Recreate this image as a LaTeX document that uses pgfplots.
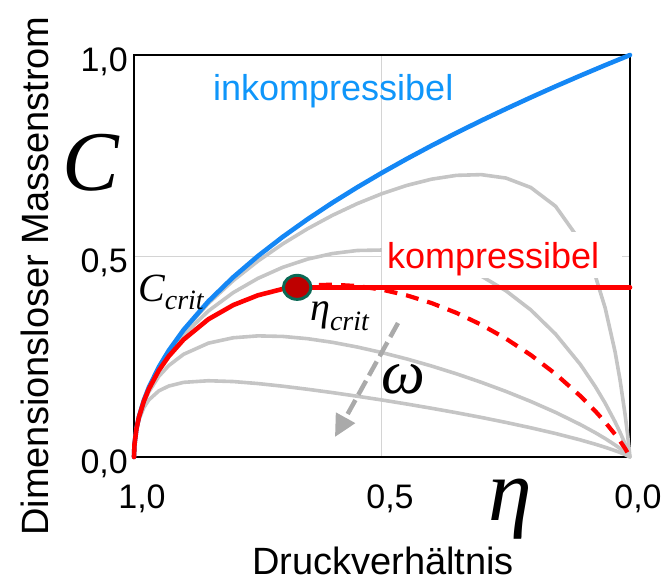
\documentclass[border=0pt]{standalone}
\usepackage{fontspec}
\setmainfont{Liberation Sans}
\newfontfamily\timesfont{Liberation Serif}
\usepackage{pgfplots}
\pgfplotsset{compat=1.18}
\usetikzlibrary{arrows.meta}

\definecolor{curvegray}{RGB}{197,197,197}
\definecolor{arrowgray}{RGB}{170,170,170}
\definecolor{gridgray}{RGB}{212,212,212}
\definecolor{incblue}{RGB}{20,135,245}
\definecolor{inctext}{RGB}{15,150,250}
\definecolor{critred}{RGB}{255,0,0}
\definecolor{dotfill}{RGB}{190,0,0}
\definecolor{dotrim}{RGB}{10,105,85}

\newcommand{\ticksize}{\fontsize{34}{40}\selectfont}

\begin{document}
\begin{tikzpicture}
\begin{axis}[
  scale only axis, width=496pt, height=402pt,
  xmin=0, xmax=1, ymin=0, ymax=1, x dir=reverse,
  clip=false,
  axis line style={line width=1.5pt, black},
  xtick={1,0.5,0}, xticklabels={{1,0},{0,5},{0,0}},
  ytick={0,0.5,1}, yticklabels={{0,0},{0,5},{1,0}},
  major tick length=0pt,
  grid=major, grid style={line width=1pt, gridgray},
  tick label style={font=\ticksize, inner sep=0pt},
  xticklabel style={anchor=north, xshift=8pt, yshift=-28pt},
  yticklabel style={anchor=east, xshift=-6pt, yshift=-7pt},
  every axis plot/.append style={line join=round, line cap=round},
]

% omega-method curves (omega = 0.1, 0.5, 3, 10)
\addplot[curvegray, line width=3.6pt] coordinates {
(1,0) (0.999,0.0316) (0.995,0.0707) (0.99,0.0999) (0.98,0.1412) (0.97,0.1728)
(0.95,0.2227) (0.93,0.2631) (0.9,0.3136) (0.85,0.3822) (0.8,0.4388) (0.75,0.4875)
(0.7,0.5302) (0.65,0.5678) (0.6,0.6011) (0.55,0.6302) (0.5,0.6551) (0.45,0.6756)
(0.4,0.6911) (0.35,0.7006) (0.3,0.7024) (0.25,0.6939) (0.2,0.6704) (0.15,0.6237)
(0.1,0.5368) (0.07,0.4510) (0.05,0.3705) (0.03,0.2613) (0.02,0.1913) (0.01,0.1067)
(0.005,0.0571) (0,0)};
\addplot[curvegray, line width=3.6pt] coordinates {
(1,0) (0.999,0.0316) (0.995,0.0706) (0.99,0.0996) (0.98,0.1404) (0.97,0.1712)
(0.95,0.2193) (0.93,0.2573) (0.9,0.3036) (0.85,0.3633) (0.8,0.4089) (0.75,0.4444)
(0.7,0.4719) (0.65,0.4923) (0.6,0.5061) (0.55,0.5137) (0.5,0.5149) (0.45,0.5097)
(0.4,0.4976) (0.35,0.4780) (0.3,0.4503) (0.25,0.4134) (0.2,0.3659) (0.15,0.3057)
(0.1,0.2301) (0.07,0.1753) (0.05,0.1338) (0.03,0.0872) (0.02,0.0613) (0.01,0.0331)
(0,0)};
\addplot[curvegray, line width=3.6pt] coordinates {
(1,0) (0.999,0.0316) (0.995,0.0699) (0.99,0.0978) (0.98,0.1353) (0.97,0.1621)
(0.95,0.2005) (0.93,0.2274) (0.9,0.2555) (0.85,0.2832) (0.8,0.2966) (0.75,0.3013)
(0.7,0.2999) (0.65,0.2943) (0.6,0.2853) (0.55,0.2736) (0.5,0.2597) (0.45,0.2439)
(0.4,0.2263) (0.35,0.2070) (0.3,0.1859) (0.25,0.1631) (0.2,0.1382) (0.15,0.1110)
(0.1,0.0807) (0.07,0.0605) (0.05,0.0459) (0.03,0.0299) (0.02,0.0211) (0.01,0.0115)
(0,0)};
\addplot[curvegray, line width=3.6pt] coordinates {
(1,0) (0.999,0.0314) (0.995,0.0682) (0.99,0.0931) (0.98,0.1233) (0.97,0.1421)
(0.95,0.1644) (0.93,0.1765) (0.9,0.1857) (0.85,0.1897) (0.8,0.1877) (0.75,0.1827)
(0.7,0.1761) (0.65,0.1685) (0.6,0.1602) (0.55,0.1512) (0.5,0.1418) (0.45,0.1318)
(0.4,0.1212) (0.35,0.1102) (0.3,0.0985) (0.25,0.0860) (0.2,0.0727) (0.15,0.0584)
(0.1,0.0425) (0.07,0.0319) (0.05,0.0242) (0.03,0.0158) (0.02,0.0112) (0.01,0.0062)
(0,0)};

% label of the compressible branch on a white patch
\fill[white] (axis cs:0.5,0.4453) rectangle (axis cs:0.0161,0.5597);
\node[anchor=base west, inner sep=0pt, text=critred, font=\fontsize{36}{40}\selectfont]
  at (axis cs:0.4899,0.4701) {kompressibel};
\node[anchor=base west, inner sep=0pt, text=inctext, font=\fontsize{36}{40}\selectfont]
  at (axis cs:0.8407,0.888) {inkompressibel};

% incompressible flow
\addplot[incblue, line width=4.6pt] coordinates {
(1,0) (0.999,0.0316) (0.995,0.0707) (0.99,0.1) (0.98,0.1414) (0.97,0.1732)
(0.95,0.2236) (0.93,0.2646) (0.9,0.3162) (0.85,0.3873) (0.8,0.4472) (0.75,0.5)
(0.7,0.5477) (0.65,0.5916) (0.6,0.6325) (0.55,0.6708) (0.5,0.7071) (0.45,0.7416)
(0.4,0.7746) (0.35,0.8062) (0.3,0.8367) (0.25,0.8660) (0.2,0.8944) (0.15,0.9220)
(0.1,0.9487) (0.05,0.9747) (0,1)};

% compressible flow, omega = 1
\addplot[critred, line width=4.6pt] coordinates {
(1,0) (0.999,0.0316) (0.995,0.0705) (0.99,0.0993) (0.98,0.1393) (0.97,0.1693)
(0.95,0.2152) (0.93,0.2505) (0.9,0.2921) (0.85,0.3427) (0.8,0.3779) (0.75,0.4023)
(0.7,0.4181) (0.671,0.422)};
\addplot[critred, line width=4.2pt, dash pattern=on 13pt off 9pt, line cap=butt] coordinates {
(0.671,0.422) (0.65,0.4266) (0.6,0.4288) (0.55,0.4253) (0.5,0.4163) (0.45,0.4021)
(0.4,0.3829) (0.35,0.3586) (0.3,0.3292) (0.25,0.2944) (0.2,0.2537) (0.15,0.2066)
(0.1,0.1517) (0.07,0.1142) (0.05,0.0865) (0.03,0.0562) (0.02,0.0396) (0.01,0.0215)
(0,0)};
\addplot[critred, line width=4.6pt] coordinates {(0.671,0.422) (0,0.422)};

% critical point
\addplot[only marks, mark=*, mark size=12pt,
  mark options={xscale=1.15, fill=dotfill, draw=dotrim, line width=3pt}]
  coordinates {(0.671,0.422)};

% direction of increasing omega
\draw[arrowgray, line width=4.5pt, dash pattern=on 16pt off 6pt,
  -{Triangle[length=22pt, width=21pt]}]
  (axis cs:0.4677,0.3333) -- (axis cs:0.5948,0.0498);

% symbols
\node[inner sep=0pt, font=\timesfont\itshape\fontsize{85}{90}\selectfont]
  at (axis cs:1.0867,0.7313) {C};
\node[inner sep=0pt, font=\timesfont\itshape\fontsize{88}{90}\selectfont]
  at (axis cs:0.2419,-0.1294) {η};
\node[inner sep=0pt, font=\timesfont\itshape\fontsize{62}{70}\selectfont]
  at (axis cs:0.4577,0.194) {ω};
\node[anchor=base west, inner sep=0pt, font=\timesfont\itshape\fontsize{40}{40}\selectfont]
  at (axis cs:0.9919,0.3856) {C\raisebox{-8pt}{\fontsize{28}{28}\selectfont crit}};
\node[anchor=base west, inner sep=0pt, font=\timesfont\itshape\fontsize{40}{40}\selectfont]
  at (axis cs:0.6452,0.3408) {η\raisebox{-10pt}{\fontsize{28}{28}\selectfont crit}};

% axis titles
\node[rotate=90, inner sep=0pt, font=\fontsize{38}{40}\selectfont]
  at (axis cs:1.1996,0.4502) {Dimensionsloser Massenstrom};
\node[anchor=base, inner sep=0pt, font=\fontsize{38}{40}\selectfont]
  at (axis cs:0.498,-0.2935) {Druckverhältnis};
\end{axis}
\pgfresetboundingbox
\path[use as bounding box] (-134pt,-125pt) rectangle (536pt,457pt);
\end{tikzpicture}
\end{document}
